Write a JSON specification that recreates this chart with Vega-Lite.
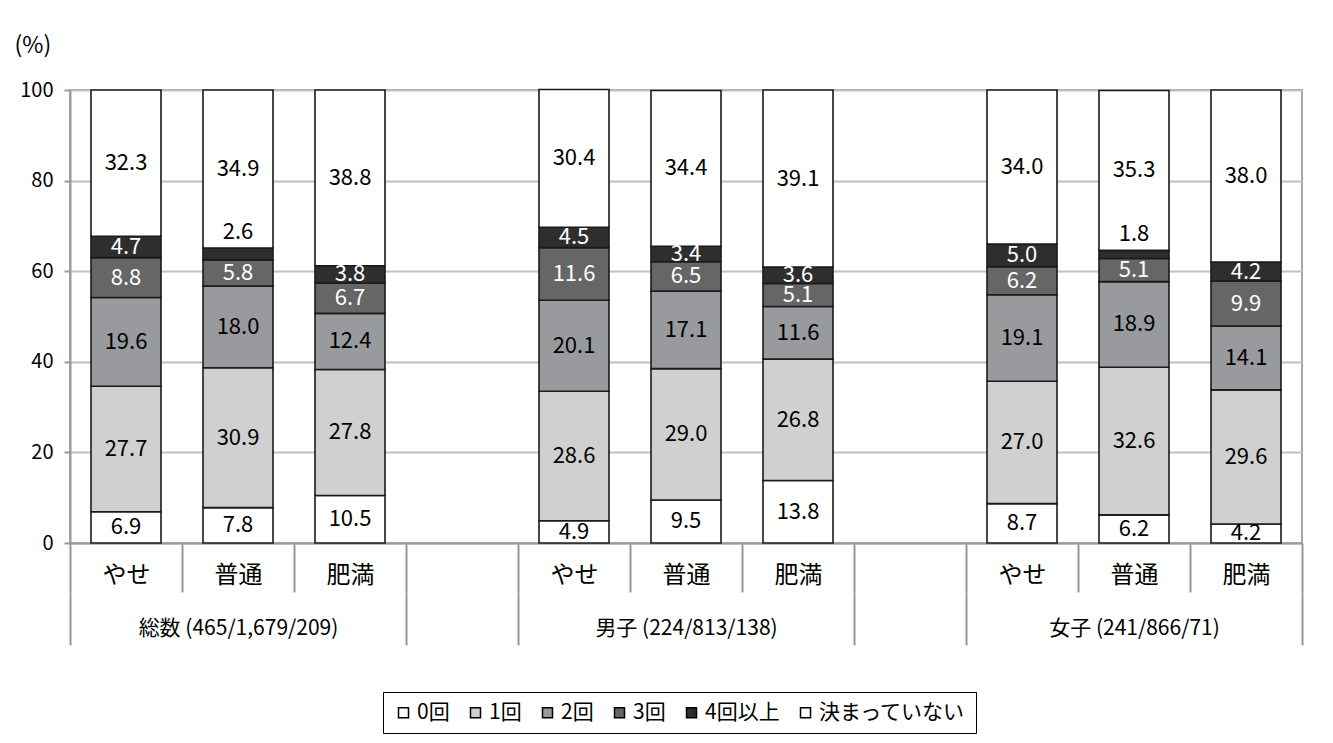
{
  "$schema": "https://vega.github.io/schema/vega-lite/v6.json",
  "width": 1232,
  "height": 453,
  "autosize": {"type": "none"},
  "padding": {"left": 70, "top": 90, "right": 31, "bottom": 200},
  "background": "white",
  "config": {
    "font": "Noto Sans CJK JP",
    "view": {"stroke": "#a6a6a6", "strokeWidth": 2},
    "axisY": {
      "title": "(%)", "titleAngle": 0, "titleAlign": "left", "titleBaseline": "middle",
      "titleX": -56, "titleY": -45, "titleFontSize": 23, "titleFontWeight": "normal", "titleColor": "black",
      "labelFontSize": 20, "labelColor": "black", "labelPadding": 11,
      "tickSize": 6, "tickColor": "#999999", "tickWidth": 2,
      "domainColor": "#999999", "domainWidth": 2,
      "gridColor": "#c0c0c0", "gridWidth": 2
    }
  },
  "data": {
    "values": [
      {"slot": "総数 (465/1,679/209)|やせ", "series": "0回", "order": 0, "value": 6.9},
      {"slot": "総数 (465/1,679/209)|やせ", "series": "1回", "order": 1, "value": 27.7},
      {"slot": "総数 (465/1,679/209)|やせ", "series": "2回", "order": 2, "value": 19.6},
      {"slot": "総数 (465/1,679/209)|やせ", "series": "3回", "order": 3, "value": 8.8},
      {"slot": "総数 (465/1,679/209)|やせ", "series": "4回以上", "order": 4, "value": 4.7},
      {"slot": "総数 (465/1,679/209)|やせ", "series": "決まっていない", "order": 5, "value": 32.3},
      {"slot": "総数 (465/1,679/209)|普通", "series": "0回", "order": 0, "value": 7.8},
      {"slot": "総数 (465/1,679/209)|普通", "series": "1回", "order": 1, "value": 30.9},
      {"slot": "総数 (465/1,679/209)|普通", "series": "2回", "order": 2, "value": 18.0},
      {"slot": "総数 (465/1,679/209)|普通", "series": "3回", "order": 3, "value": 5.8},
      {"slot": "総数 (465/1,679/209)|普通", "series": "4回以上", "order": 4, "value": 2.6},
      {"slot": "総数 (465/1,679/209)|普通", "series": "決まっていない", "order": 5, "value": 34.9},
      {"slot": "総数 (465/1,679/209)|肥満", "series": "0回", "order": 0, "value": 10.5},
      {"slot": "総数 (465/1,679/209)|肥満", "series": "1回", "order": 1, "value": 27.8},
      {"slot": "総数 (465/1,679/209)|肥満", "series": "2回", "order": 2, "value": 12.4},
      {"slot": "総数 (465/1,679/209)|肥満", "series": "3回", "order": 3, "value": 6.7},
      {"slot": "総数 (465/1,679/209)|肥満", "series": "4回以上", "order": 4, "value": 3.8},
      {"slot": "総数 (465/1,679/209)|肥満", "series": "決まっていない", "order": 5, "value": 38.8},
      {"slot": "男子 (224/813/138)|やせ", "series": "0回", "order": 0, "value": 4.9},
      {"slot": "男子 (224/813/138)|やせ", "series": "1回", "order": 1, "value": 28.6},
      {"slot": "男子 (224/813/138)|やせ", "series": "2回", "order": 2, "value": 20.1},
      {"slot": "男子 (224/813/138)|やせ", "series": "3回", "order": 3, "value": 11.6},
      {"slot": "男子 (224/813/138)|やせ", "series": "4回以上", "order": 4, "value": 4.5},
      {"slot": "男子 (224/813/138)|やせ", "series": "決まっていない", "order": 5, "value": 30.4},
      {"slot": "男子 (224/813/138)|普通", "series": "0回", "order": 0, "value": 9.5},
      {"slot": "男子 (224/813/138)|普通", "series": "1回", "order": 1, "value": 29.0},
      {"slot": "男子 (224/813/138)|普通", "series": "2回", "order": 2, "value": 17.1},
      {"slot": "男子 (224/813/138)|普通", "series": "3回", "order": 3, "value": 6.5},
      {"slot": "男子 (224/813/138)|普通", "series": "4回以上", "order": 4, "value": 3.4},
      {"slot": "男子 (224/813/138)|普通", "series": "決まっていない", "order": 5, "value": 34.4},
      {"slot": "男子 (224/813/138)|肥満", "series": "0回", "order": 0, "value": 13.8},
      {"slot": "男子 (224/813/138)|肥満", "series": "1回", "order": 1, "value": 26.8},
      {"slot": "男子 (224/813/138)|肥満", "series": "2回", "order": 2, "value": 11.6},
      {"slot": "男子 (224/813/138)|肥満", "series": "3回", "order": 3, "value": 5.1},
      {"slot": "男子 (224/813/138)|肥満", "series": "4回以上", "order": 4, "value": 3.6},
      {"slot": "男子 (224/813/138)|肥満", "series": "決まっていない", "order": 5, "value": 39.1},
      {"slot": "女子 (241/866/71)|やせ", "series": "0回", "order": 0, "value": 8.7},
      {"slot": "女子 (241/866/71)|やせ", "series": "1回", "order": 1, "value": 27.0},
      {"slot": "女子 (241/866/71)|やせ", "series": "2回", "order": 2, "value": 19.1},
      {"slot": "女子 (241/866/71)|やせ", "series": "3回", "order": 3, "value": 6.2},
      {"slot": "女子 (241/866/71)|やせ", "series": "4回以上", "order": 4, "value": 5.0},
      {"slot": "女子 (241/866/71)|やせ", "series": "決まっていない", "order": 5, "value": 34.0},
      {"slot": "女子 (241/866/71)|普通", "series": "0回", "order": 0, "value": 6.2},
      {"slot": "女子 (241/866/71)|普通", "series": "1回", "order": 1, "value": 32.6},
      {"slot": "女子 (241/866/71)|普通", "series": "2回", "order": 2, "value": 18.9},
      {"slot": "女子 (241/866/71)|普通", "series": "3回", "order": 3, "value": 5.1},
      {"slot": "女子 (241/866/71)|普通", "series": "4回以上", "order": 4, "value": 1.8},
      {"slot": "女子 (241/866/71)|普通", "series": "決まっていない", "order": 5, "value": 35.3},
      {"slot": "女子 (241/866/71)|肥満", "series": "0回", "order": 0, "value": 4.2},
      {"slot": "女子 (241/866/71)|肥満", "series": "1回", "order": 1, "value": 29.6},
      {"slot": "女子 (241/866/71)|肥満", "series": "2回", "order": 2, "value": 14.1},
      {"slot": "女子 (241/866/71)|肥満", "series": "3回", "order": 3, "value": 9.9},
      {"slot": "女子 (241/866/71)|肥満", "series": "4回以上", "order": 4, "value": 4.2},
      {"slot": "女子 (241/866/71)|肥満", "series": "決まっていない", "order": 5, "value": 38.0}
    ]
  },
  "layer": [
    {
      "mark": {"type": "bar", "stroke": "#1a1a1a", "strokeWidth": 1.6, "width": {"band": 0.625}},
      "encoding": {
        "x": {
          "field": "slot", "type": "nominal",
          "scale": {
            "domain": ["総数 (465/1,679/209)|やせ", "総数 (465/1,679/209)|普通", "総数 (465/1,679/209)|肥満", "gapA|", "男子 (224/813/138)|やせ", "男子 (224/813/138)|普通", "男子 (224/813/138)|肥満", "gapB|", "女子 (241/866/71)|やせ", "女子 (241/866/71)|普通", "女子 (241/866/71)|肥満"],
            "paddingInner": 0, "paddingOuter": 0
          },
          "axis": {
            "orient": "bottom", "title": null,
            "labelExpr": "split(datum.value, '|')[1]",
            "labelFontSize": 24, "labelColor": "black", "labelAngle": 0,
            "labelBaseline": "middle", "labelPadding": -17, "labelOverlap": false,
            "tickBand": "extent", "tickSize": 49, "tickColor": "#999999", "tickWidth": 2,
            "domainColor": "#999999", "domainWidth": 2, "grid": false
          }
        },
        "y": {
          "field": "value", "type": "quantitative", "stack": "zero",
          "scale": {"domain": [0, 100], "nice": false},
          "axis": {"title": "(%)", "values": [0, 20, 40, 60, 80, 100]}
        },
        "color": {
          "field": "series", "type": "nominal",
          "scale": {
            "domain": ["0回", "1回", "2回", "3回", "4回以上", "決まっていない"],
            "range": ["#ffffff", "#d0d0d0", "#999a9e", "#666666", "#2e2e2e", "#ffffff"]
          },
          "legend": {
            "orient": "none", "legendX": 313, "legendY": 602,
            "direction": "horizontal", "columns": 6, "title": null,
            "symbolType": "square", "symbolSize": 100,
            "symbolStrokeColor": "black", "symbolStrokeWidth": 1.5,
            "labelFontSize": 21, "labelColor": "black", "labelOffset": 3,
            "columnPadding": 15, "padding": 10,
            "strokeColor": "black", "fillColor": "white"
          }
        },
        "order": {"field": "order", "type": "quantitative"}
      }
    },
    {
      "transform": [
        {"stack": "value", "groupby": ["slot"], "sort": [{"field": "order", "order": "ascending"}], "as": ["v0", "v1"]},
        {"calculate": "(datum.v0 + datum.v1) / 2", "as": "mid"},
        {"filter": "!(datum.series == '4回以上' && datum.value < 3)"}
      ],
      "mark": {"type": "text", "fontSize": 22, "baseline": "middle"},
      "encoding": {
        "x": {
          "field": "slot", "type": "nominal",
          "scale": {
            "domain": ["総数 (465/1,679/209)|やせ", "総数 (465/1,679/209)|普通", "総数 (465/1,679/209)|肥満", "gapA|", "男子 (224/813/138)|やせ", "男子 (224/813/138)|普通", "男子 (224/813/138)|肥満", "gapB|", "女子 (241/866/71)|やせ", "女子 (241/866/71)|普通", "女子 (241/866/71)|肥満"],
            "paddingInner": 0, "paddingOuter": 0
          },
          "axis": {
            "orient": "bottom", "offset": 49, "title": null,
            "labelExpr": "split(datum.value, '|')[1] == '普通' ? split(datum.value, '|')[0] : ''",
            "labelFontSize": 21, "labelColor": "black", "labelAngle": 0, "labelLimit": 0,
            "labelBaseline": "middle", "labelPadding": -17, "labelOverlap": false,
            "tickBand": "extent", "tickSize": 53, "tickColor": "#999999", "tickWidth": 2,
            "tickOpacity": {"condition": {"test": "isValid(datum.extra) || !isString(datum.value) || split(datum.value, '|')[1] == '肥満' || indexof(datum.value, 'gap') == 0", "value": 1}, "value": 0},
            "domain": false, "grid": false
          }
        },
        "y": {"field": "mid", "type": "quantitative", "scale": {"domain": [0, 100], "nice": false}, "axis": {"title": "(%)", "values": [0, 20, 40, 60, 80, 100]}},
        "text": {"field": "value", "type": "quantitative", "format": ".1f"},
        "color": {"condition": {"test": "datum.series == '3回' || datum.series == '4回以上'", "value": "white"}, "value": "black"}
      }
    },
    {
      "transform": [
        {"stack": "value", "groupby": ["slot"], "sort": [{"field": "order", "order": "ascending"}], "as": ["v0", "v1"]},
        {"filter": "datum.series == '4回以上' && datum.value < 3"}
      ],
      "mark": {"type": "text", "fontSize": 22, "baseline": "middle", "dy": -16, "color": "black"},
      "encoding": {
        "x": {
          "field": "slot", "type": "nominal",
          "scale": {
            "domain": ["総数 (465/1,679/209)|やせ", "総数 (465/1,679/209)|普通", "総数 (465/1,679/209)|肥満", "gapA|", "男子 (224/813/138)|やせ", "男子 (224/813/138)|普通", "男子 (224/813/138)|肥満", "gapB|", "女子 (241/866/71)|やせ", "女子 (241/866/71)|普通", "女子 (241/866/71)|肥満"],
            "paddingInner": 0, "paddingOuter": 0
          },
          "axis": null
        },
        "y": {"field": "v1", "type": "quantitative", "scale": {"domain": [0, 100], "nice": false}, "axis": {"title": "(%)", "values": [0, 20, 40, 60, 80, 100]}},
        "text": {"field": "value", "type": "quantitative", "format": ".1f"}
      }
    }
  ],
  "resolve": {"axis": {"x": "independent"}}
}
